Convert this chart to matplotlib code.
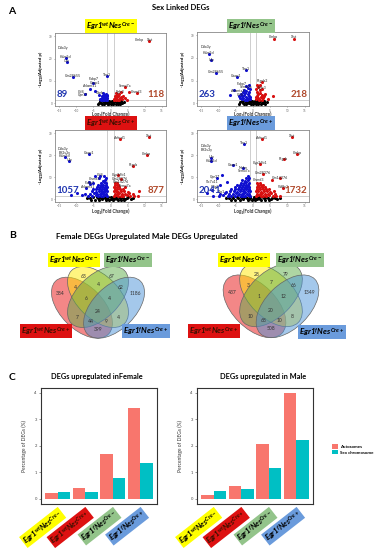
import matplotlib
matplotlib.use("Agg")
import matplotlib.pyplot as plt
from matplotlib.patches import Ellipse, Patch

plt.rcParams['font.family'] = ['Lato', 'DejaVu Sans']
plt.rcParams['mathtext.fontset'] = 'custom'
plt.rcParams['mathtext.it'] = 'Lato:italic:bold'
plt.rcParams['mathtext.rm'] = 'Lato:italic:bold'
plt.rcParams['mathtext.bf'] = 'Lato:italic:bold'

# ---------------- data ----------------
# genotype labels
lab_wt_m = r"$Egr1^{wt}Nes^{Cre-}$"
lab_wt_p = r"$Egr1^{wt}Nes^{Cre+}$"
lab_f_m = r"$Egr1^{f}Nes^{Cre-}$"
lab_f_p = r"$Egr1^{f}Nes^{Cre+}$"

# volcano counts (down, up)
tl_counts = (89, 118)
tr_counts = (263, 218)
bl_counts = (1057, 877)
br_counts = (2041, 1732)

# volcano points (log2 fold change, -log10 adj p)
tl_black = [(-3.5, 0.2), (-3, 0.8), (-2.5, -0.3), (-2, 0.5), (-1.5, 1.0), (-1, 0.1), (-0.5, 0.7),
            (0, -0.4), (0.5, 0.9), (1, 0.3), (1.5, -0.2), (2, 0.7), (2.5, 0.2), (3, 1.0), (3.5, -0.1),
            (-2.8, 0.0), (-1.8, -0.5), (-0.8, -0.2), (0.3, 0.3), (1.2, 1.1), (2.2, -0.4), (3.2, 0.4),
            (-0.3, 1.1), (0.8, -0.5), (-1.2, 0.6), (1.8, 0.5), (-2.2, 1.1), (2.8, -0.2), (0, 0.6),
            (-3.8, -0.3), (3.9, 0.6), (-0.6, -0.6), (0.6, 0.2), (-1.6, 0.2), (1.6, 0.8)]
tl_blue = [(-0.9, 1.5), (-1.2, 2.1), (-1.5, 1.8), (-1.8, 2.6), (-2.1, 1.6), (-2.4, 2.2), (-1.1, 3.0),
           (-1.6, 3.4), (-2.0, 3.8), (-2.6, 3.0), (-3.0, 2.0), (-1.3, 4.2), (-2.3, 4.6), (-3.4, 3.6),
           (-1.0, 2.5), (-1.9, 1.4), (-2.8, 1.5), (-1.4, 1.4), (-0.9, 3.6), (-4.5, 5.5), (-6.0, 6.5),
           (-5.2, 9.0), (-7.5, 4.2), (-1.1, 12.0), (-10.9, 11.8), (-13.1, 20.3), (-12.9, 18.5)]
tl_red = [(1.0, 1.6), (1.3, 2.3), (1.7, 1.8), (2.0, 2.8), (2.4, 1.5), (2.7, 2.2), (1.2, 3.2),
          (1.8, 3.8), (2.3, 3.3), (3.0, 2.6), (3.4, 1.7), (1.5, 4.5), (2.6, 4.2), (3.6, 3.3),
          (1.1, 2.0), (2.1, 1.4), (4.2, 2.2), (4.8, 1.6), (1.6, 1.4), (3.0, 4.8), (5.5, 5.0),
          (7.7, 4.6), (4.3, 7.3), (11.3, 27.8)]
tl_genes = [("Cmkp", 8.4, 28.4), ("Xist", 11.6, 28.4), ("Ddx3y", -14.0, 24.7), ("Kdm5d", -13.1, 20.9),
            ("Uty", -12.9, 19.1), ("Gm28655", -10.9, 12.4), ("Thy1", -1.1, 12.7), ("Fabp7", -5.1, 10.9),
            ("Gnao1", -4.6, 9.0), ("Adamts1", -6.0, 7.5), ("Sema7a", 4.3, 7.9), ("Cd4", -8.5, 5.2),
            ("Gpr17", -8.0, 3.5), ("Fgfr3", 2.8, 4.8), ("Cnmd3", 7.7, 5.2), ("Ghrh", -3.1, 4.5)]

tr_black = [(-3.8, 0.3), (-3.2, 0.9), (-2.6, -0.2), (-2.1, 0.6), (-1.6, 1.1), (-1.1, 0.0), (-0.6, 0.8),
            (0, -0.3), (0.5, 1.0), (1.0, 0.2), (1.5, -0.3), (2.1, 0.8), (2.6, 0.1), (3.1, 1.1), (3.6, -0.2),
            (-2.9, 0.1), (-1.9, -0.5), (-0.8, -0.1), (0.3, 0.4), (1.2, 1.0), (2.3, -0.4), (3.3, 0.5),
            (-0.3, 1.1), (0.8, -0.5), (-1.3, 0.5), (1.8, 0.4), (-2.3, 1.0), (2.9, -0.1), (0, 0.6),
            (-4.2, -0.2), (4.1, 0.5), (-0.5, -0.6), (0.6, 0.3), (-1.7, 0.2), (1.6, 0.7)]
tr_blue = [(-0.9, 1.6), (-1.3, 2.2), (-1.7, 1.7), (-2.0, 2.8), (-2.4, 1.5), (-2.8, 2.3), (-3.3, 1.8),
           (-1.1, 3.3), (-1.6, 3.9), (-2.2, 4.4), (-2.7, 3.5), (-3.2, 3.0), (-3.7, 2.4), (-1.2, 4.9),
           (-1.9, 5.5), (-2.5, 5.9), (-3.0, 4.8), (-1.0, 6.2), (-1.5, 6.9), (-2.1, 7.4), (-1.2, 8.0),
           (-3.6, 4.0), (-4.2, 3.1), (-0.9, 2.5), (-1.8, 1.4), (-4.8, 11.5), (-1.9, 14.8), (-10.7, 13.2),
           (-12.1, 18.9), (-12.9, 21.8), (-5.5, 6.0), (-6.8, 3.4)]
tr_red = [(1.0, 1.6), (1.4, 2.3), (1.8, 1.7), (2.2, 2.8), (2.6, 1.5), (3.0, 2.2), (1.1, 3.3),
          (1.6, 3.9), (2.1, 4.5), (2.7, 3.6), (3.2, 3.1), (1.3, 5.0), (1.9, 5.6), (2.5, 6.1),
          (1.0, 6.4), (1.5, 7.1), (2.1, 7.8), (1.2, 8.2), (3.5, 4.2), (0.9, 2.6), (1.8, 1.4),
          (2.6, 9.5), (4.5, 2.0), (5.8, 3.0), (11.9, 28.5), (6.0, 28.5)]
tr_genes = [("Cmkp", 6.0, 29.1), ("Xist", 11.9, 29.1), ("Ddx3y", -13.8, 25.0), ("Kdm5d", -12.9, 22.3),
            ("Uty", -12.1, 19.3), ("Gm28655", -10.7, 13.6), ("Thy1", -1.9, 15.2), ("Gnao1", -4.8, 11.8),
            ("Ptgds2", 2.6, 9.9), ("Fabp7", -3.2, 8.6), ("Sema7a", -2.1, 7.2), ("Adamts1", -4.4, 5.4),
            ("Fgfr3", 2.6, 6.8), ("Cd4", -3.8, 3.6)]

bl_black = [(-6.0, 0.3), (-5.2, 0.9), (-4.5, -0.2), (-3.8, 0.6), (-3.1, 1.1), (-2.5, 0.0), (-1.9, 0.8),
            (-1.3, -0.3), (-0.7, 1.0), (0, 0.2), (0.6, -0.4), (1.2, 0.8), (1.8, 0.1), (2.4, 1.1),
            (3.0, -0.2), (3.7, 0.7), (4.4, 0.2), (5.2, 0.9), (6.0, -0.1), (-5.6, -0.4), (-4.1, 1.0),
            (-2.8, 0.5), (-1.6, 0.3), (-0.4, -0.5), (0.4, 0.7), (1.5, 1.1), (2.7, 0.4), (3.9, -0.4),
            (4.8, 0.5), (-3.4, -0.5), (-0.9, 0.5), (0.9, 0.4), (2.1, -0.5), (-2.2, 1.1), (3.3, 1.0),
            (-6.8, 0.6), (6.7, 0.4), (0.2, 1.1), (-1.0, -0.1), (1.0, -0.1)]
bl_blue = [(-1.0, 1.5), (-1.6, 1.7), (-2.2, 1.4), (-2.9, 1.6), (-3.6, 1.5), (-4.4, 1.7), (-5.3, 1.4), (-6.5, 1.6),
           (-1.2, 2.5), (-1.8, 2.4), (-2.5, 2.6), (-3.2, 2.5), (-4.0, 2.4), (-4.9, 2.6), (-6.0, 2.5), (-7.4, 2.4),
           (-1.0, 3.5), (-1.5, 3.6), (-2.1, 3.4), (-2.8, 3.5), (-3.5, 3.6), (-4.4, 3.4), (-5.5, 3.5),
           (-1.3, 4.5), (-1.9, 4.4), (-2.6, 4.6), (-3.4, 4.5), (-4.2, 4.4), (-5.2, 4.6),
           (-1.1, 5.5), (-1.7, 5.6), (-2.4, 5.4), (-3.1, 5.5), (-4.0, 5.6),
           (-1.4, 6.5), (-2.1, 6.4), (-2.9, 6.6), (-3.8, 6.5),
           (-1.2, 7.5), (-1.9, 7.6), (-2.7, 7.4), (-1.5, 8.5), (-2.3, 8.4), (-1.3, 9.5), (-1.9, 10.6),
           (-8.5, 2.0), (-9.8, 3.0), (-11.5, 1.8), (-7.2, 5.0), (-6.2, 8.0), (-5.0, 7.2), (-3.5, 9.8),
           (-12.1, 17.4), (-13.4, 19.3), (-6.2, 20.4), (-4.5, 10.5), (-3.1, 10.4), (-6.0, 6.8)]
bl_red = [(1.0, 1.5), (1.6, 1.7), (2.3, 1.4), (3.0, 1.6), (3.8, 1.5), (4.7, 1.7), (5.8, 1.4), (7.0, 1.6), (8.2, 1.5),
          (1.2, 2.5), (1.9, 2.4), (2.6, 2.6), (3.4, 2.5), (4.3, 2.4), (5.3, 2.6), (6.5, 2.5),
          (1.0, 3.5), (1.6, 3.6), (2.3, 3.4), (3.1, 3.5), (4.0, 3.6), (5.0, 3.4),
          (1.3, 4.5), (2.0, 4.4), (2.8, 4.6), (3.7, 4.5), (1.1, 5.5), (1.8, 5.6), (2.6, 5.4),
          (1.4, 6.5), (2.2, 6.4), (1.2, 7.5), (2.0, 7.4), (3.0, 9.0), (2.2, 10.8), (6.7, 15.0),
          (10.6, 20.1), (11.4, 28.3), (2.8, 27.5), (8.5, 3.5), (4.3, 5.5)]
bl_genes = [("Ankrd1", 2.8, 27.9), ("Xist", 11.4, 28.7), ("Ddx3y", -13.9, 22.9), ("Eif2s3y", -13.5, 21.2),
            ("Kdm5d", -13.4, 19.7), ("Uty", -12.1, 17.8), ("Gnao1", -6.2, 20.8), ("Cmkp", 10.6, 20.5),
            ("Ptgds", 6.7, 15.4), ("Cyp26b1", 2.6, 11.2), ("Gm28376", 2.8, 9.4), ("Gm14276", 3.1, 7.6),
            ("Sema7a", 4.3, 5.8), ("Cnmd3", -4.6, 9.0), ("Fabp7", -6.0, 7.2), ("Adamts1", -6.6, 5.4),
            ("Cd4", -3.1, 10.8)]

br_black = [(-7.0, 0.3), (-6.1, 0.9), (-5.2, -0.2), (-4.4, 0.6), (-3.6, 1.1), (-2.9, 0.0), (-2.2, 0.8),
            (-1.5, -0.3), (-0.8, 1.0), (0, 0.2), (0.7, -0.4), (1.4, 0.8), (2.1, 0.1), (2.8, 1.1),
            (3.5, -0.2), (4.3, 0.7), (5.1, 0.2), (6.0, 0.9), (6.9, -0.1), (-6.5, -0.4), (-4.8, 1.0),
            (-3.2, 0.5), (-1.8, 0.3), (-0.4, -0.5), (0.4, 0.7), (1.7, 1.1), (3.1, 0.4), (4.6, -0.4),
            (5.6, 0.5), (-3.9, -0.5), (-1.0, 0.5), (1.0, 0.4), (2.4, -0.5), (-2.5, 1.1), (3.8, 1.0),
            (-7.9, 0.6), (7.8, 0.4), (0.2, 1.1), (-1.2, -0.1), (1.2, -0.1), (-5.7, 0.4), (6.4, 0.6)]
br_blue = [(-1.0, 1.5), (-1.6, 1.7), (-2.2, 1.4), (-2.9, 1.6), (-3.6, 1.5), (-4.4, 1.7), (-5.3, 1.4), (-6.3, 1.6),
           (-7.4, 1.5), (-8.6, 1.7), (-10.0, 1.4), (-11.5, 1.6),
           (-1.2, 2.5), (-1.8, 2.4), (-2.5, 2.6), (-3.2, 2.5), (-4.0, 2.4), (-4.9, 2.6), (-5.9, 2.5), (-7.0, 2.4),
           (-8.2, 2.6), (-9.6, 2.5),
           (-1.0, 3.5), (-1.6, 3.6), (-2.2, 3.4), (-2.9, 3.5), (-3.7, 3.6), (-4.6, 3.4), (-5.6, 3.5), (-6.7, 3.6),
           (-8.0, 3.4),
           (-1.3, 4.5), (-1.9, 4.4), (-2.6, 4.6), (-3.4, 4.5), (-4.3, 4.4), (-5.3, 4.6), (-6.4, 4.5),
           (-1.1, 5.5), (-1.7, 5.6), (-2.4, 5.4), (-3.2, 5.5), (-4.1, 5.6), (-5.1, 5.4),
           (-1.4, 6.5), (-2.1, 6.4), (-2.9, 6.6), (-3.8, 6.5), (-4.8, 6.4),
           (-1.2, 7.5), (-1.9, 7.6), (-2.7, 7.4), (-3.6, 7.5), (-1.5, 8.5), (-2.3, 8.4), (-3.1, 8.6),
           (-1.3, 9.5), (-2.0, 9.6), (-1.6, 10.5), (-9.5, 6.5), (-11.8, 4.0), (-7.5, 8.0), (-5.8, 15.5),
           (-2.6, 25.0), (-12.1, 18.8), (-12.1, 17.3), (-10.5, 9.5), (-9.0, 11.0), (-2.9, 14.0), (-13.5, 3.0)]
br_red = [(1.0, 1.5), (1.6, 1.7), (2.3, 1.4), (3.0, 1.6), (3.8, 1.5), (4.7, 1.7), (5.7, 1.4), (6.8, 1.6), (8.0, 1.5),
          (1.2, 2.5), (1.9, 2.4), (2.6, 2.6), (3.4, 2.5), (4.3, 2.4), (5.3, 2.6), (6.4, 2.5),
          (1.0, 3.5), (1.6, 3.6), (2.3, 3.4), (3.1, 3.5), (4.0, 3.6), (5.0, 3.4), (6.1, 3.5),
          (1.3, 4.5), (2.0, 4.4), (2.8, 4.6), (3.7, 4.5), (4.7, 4.4),
          (1.1, 5.5), (1.8, 5.6), (2.6, 5.4), (3.5, 5.5), (1.4, 6.5), (2.2, 6.4), (3.0, 6.6),
          (1.2, 7.5), (2.0, 7.4), (2.0, 16.2), (3.0, 11.4), (7.9, 9.5), (8.9, 18.2), (12.9, 20.6),
          (11.4, 28.5), (2.6, 27.5), (5.5, 8.5), (8.8, 5.2)]
br_genes = [("Ankrd1", 2.6, 27.9), ("Xist", 11.4, 28.7), ("Thy1", -2.6, 25.4), ("Ddx3y", -13.8, 24.2),
            ("Eif2s3y", -13.4, 22.4), ("Uty", -12.1, 19.0), ("Kdm5d", -12.1, 17.5), ("Cmkp", 12.9, 20.9),
            ("Ptgds", 8.9, 18.4), ("Gnao1", -5.8, 15.7), ("Cyp26b1", 2.1, 16.5), ("Nefm", -2.9, 14.2),
            ("Gm28376", 3.0, 11.7), ("Gm14276", 7.9, 9.7), ("Cnmd3", 1.6, 8.5), ("Sema7a", -2.6, 12.6),
            ("Gpr37", -11.2, 9.9), ("Slc7a11", -11.8, 7.6), ("Olig2", -10.9, 5.4), ("Wdfy1", 8.8, 5.4),
            ("Plp1", -9.1, 3.1)]

# venn counts (same region order for both diagrams)
female_venn = [384, 63, 67, 1186, 4, 4, 62, 6, 4, 24, 7, 4, 44, 9, 399]
male_venn = [437, 28, 79, 1349, 3, 7, 66, 1, 12, 20, 10, 8, 68, 10, 508]

# percentage of DEGs
bar_groups = [lab_wt_m, lab_wt_p, lab_f_m, lab_f_p]
female_auto = [0.20, 0.42, 1.68, 3.42]
female_sex = [0.27, 0.25, 0.80, 1.33]
male_auto = [0.15, 0.48, 2.05, 3.98]
male_sex = [0.28, 0.37, 1.17, 2.20]

# ---------------- layout ----------------
W, H = 380, 550
fig = plt.figure(figsize=(3.8, 5.5), dpi=100)

def px_axes(x0, y0, x1, y1, **kw):
    return fig.add_axes([x0 / W, 1 - y1 / H, (x1 - x0) / W, (y1 - y0) / H], **kw)

YEL, RED, GRN, BLU = '#FFFF00', '#DD1111', '#93C48A', '#6A9BDC'
tag_style = {lab_wt_m: (YEL, 'black'), lab_wt_p: (RED, '#3A1000'),
             lab_f_m: (GRN, 'black'), lab_f_p: (BLU, 'black')}

ov = px_axes(0, 0, W, H, zorder=20)
ov.set_xlim(0, W)
ov.set_ylim(H, 0)
ov.axis('off')

def tag(x, y, s, size=5.8):
    fc, tc = tag_style[s]
    ov.text(x, y, s, ha='center', va='center', fontsize=size, color=tc,
            bbox=dict(boxstyle='square,pad=0.12', fc=fc, ec='none'))

# panel letters and titles
ov.text(8, 12, "A", fontsize=7.5, fontweight='bold', ha='left', va='center')
ov.text(9, 235, "B", fontsize=7.5, fontweight='bold', ha='left', va='center')
ov.text(9, 378, "C", fontsize=7.5, fontweight='bold', ha='left', va='center')
ov.text(181, 8, "Sex Linked DEGs", fontsize=5.5, fontweight='bold', ha='center', va='center')
ov.text(147, 237, "Female DEGs Upregulated Male DEGs Upregulated", fontsize=5.8,
        fontweight='bold', ha='center', va='center')
ov.text(97, 377, "DEGs upregulated inFemale", fontsize=5.3, fontweight='bold', ha='center', va='center')
ov.text(263, 377, "DEGs upregulated in Male", fontsize=5.3, fontweight='bold', ha='center', va='center')

# ---------------- A: volcano plots ----------------
def volcano(box, black, blue, red, genes, counts, xlab_y):
    ax = px_axes(*box)
    for pts, c in ((black, 'black'), (blue, '#1010D0'), (red, '#D81010')):
        ax.scatter([p[0] for p in pts], [p[1] for p in pts], s=5, c=c, linewidths=0, zorder=3)
    ax.axvline(-1, color='#BBBBBB', lw=0.5, zorder=1)
    ax.axvline(1, color='#BBBBBB', lw=0.5, zorder=1)
    ax.axhline(1.3, color='#BBBBBB', lw=0.5, zorder=1)
    for g, x, y in genes:
        ax.text(x, y, g, fontsize=2.6, ha='center', va='center', color='#222222', zorder=4)
    ax.text(-15.8, 2.0, str(counts[0]), fontsize=7, fontweight='bold', color='#1F35B0',
            ha='left', va='bottom', zorder=5)
    ax.text(15.8, 2.0, str(counts[1]), fontsize=7, fontweight='bold', color='#B0482A',
            ha='right', va='bottom', zorder=5)
    ax.set_xlim(-16.3, 16.3)
    ax.set_ylim(-1.3, 31.5)
    ax.set_xticks([-15, -10, -5, 0, 5, 10, 15])
    ax.set_yticks([0, 10, 20, 30])
    ax.tick_params(labelsize=2.2, length=1, width=0.4, pad=0.8, colors='#666666')
    for sp in ax.spines.values():
        sp.set_color('#888888')
        sp.set_linewidth(0.6)
    ax.set_ylabel("-Log\u2081\u2080(Adjusted p)", fontsize=3.2, fontweight='bold', labelpad=4)
    cx = (box[0] + box[2]) / 2
    ov.text(cx, xlab_y, "Log\u2082(Fold Change)", fontsize=3.4, fontweight='bold',
            ha='center', va='center', color='#333333')
    return ax

volcano((55, 33, 166, 106), tl_black, tl_blue, tl_red, tl_genes, tl_counts, 114)
volcano((197, 32, 309, 106), tr_black, tr_blue, tr_red, tr_genes, tr_counts, 114)
volcano((55, 130, 166, 202), bl_black, bl_blue, bl_red, bl_genes, bl_counts, 211)
volcano((197, 130, 309, 202), br_black, br_blue, br_red, br_genes, br_counts, 211)

tag(111, 26, lab_wt_m)
tag(251, 26, lab_f_m)
tag(111, 123, lab_wt_p)
tag(251, 123, lab_f_p)

# ---------------- B: venn diagrams ----------------
venn_pos = [(0.15, 0.60), (0.37, 0.76), (0.63, 0.76), (0.85, 0.60), (0.29, 0.66), (0.50, 0.69),
            (0.71, 0.66), (0.39, 0.56), (0.61, 0.56), (0.50, 0.43), (0.31, 0.38), (0.69, 0.38),
            (0.435, 0.345), (0.575, 0.345), (0.50, 0.27)]
venn_sets = [((0.35, 0.47), -45, '#E81010'), ((0.50, 0.57), -45, '#FFEA00'),
             ((0.50, 0.57), 45, '#5FAE48'), ((0.65, 0.47), 45, '#4A93D8')]

def venn(cx, scale, counts):
    ax = px_axes(cx - scale / 2, 358 - scale, cx + scale / 2, 358)
    ax.set_xlim(0, 1)
    ax.set_ylim(0, 1)
    ax.axis('off')
    for (c, ang, col) in venn_sets:
        ax.add_patch(Ellipse(c, 0.70, 0.40, angle=ang, fc=col, alpha=0.5, ec='none'))
        ax.add_patch(Ellipse(c, 0.70, 0.40, angle=ang, fc='none', ec='#666666', lw=0.5))
    for (u, v), n in zip(venn_pos, counts):
        ax.text(u, v, str(n), fontsize=3.6, ha='center', va='center', color='#333333')

venn(98, 107, female_venn)
venn(271, 110, male_venn)

tag(74, 260, lab_wt_m)
tag(128, 260, lab_f_m)
tag(46, 331, lab_wt_p)
tag(146, 331, lab_f_p)
tag(244, 260, lab_wt_m)
tag(300, 260, lab_f_m)
tag(214, 331, lab_wt_p)
tag(322, 332, lab_f_p)

# ---------------- C: bar charts ----------------
AUTO, SEXC = '#F8766D', '#00BFC4'

def bars(box, auto, sexc):
    ax = px_axes(*box)
    xs = range(len(auto))
    ax.bar([x - 0.225 for x in xs], auto, width=0.45, color=AUTO)
    ax.bar([x + 0.225 for x in xs], sexc, width=0.45, color=SEXC)
    ax.set_xlim(-0.6, 3.6)
    ax.set_ylim(-0.2, 4.18)
    ax.set_yticks([0, 1, 2, 3, 4])
    ax.tick_params(axis='y', labelsize=3, length=1.5, width=0.4, pad=1.5, colors='#444444')
    ax.tick_params(axis='x', length=0, pad=3)
    ax.set_xticks(list(xs))
    ax.set_xticklabels(bar_groups, rotation=38, ha='right', va='top', rotation_mode='anchor', fontsize=5.5)
    for lbl, g in zip(ax.get_xticklabels(), bar_groups):
        fc, tc = tag_style[g]
        lbl.set_color(tc)
        lbl.set_bbox(dict(boxstyle='square,pad=0.12', fc=fc, ec='none'))
    for sp in ax.spines.values():
        sp.set_color('#333333')
        sp.set_linewidth(0.8)
    ax.set_ylabel("Percentage of DEGs (%)", fontsize=3.5, color='#333333', labelpad=5)
    return ax

bars((41, 388, 157, 504), female_auto, female_sex)
bars((197, 388, 313, 504), male_auto, male_sex)

ov.legend(handles=[Patch(fc=AUTO, label='Autosomes'), Patch(fc=SEXC, label='Sex chromosome')],
          loc='upper left', bbox_to_anchor=(330 / W, 1 - 442 / H), bbox_transform=fig.transFigure,
          frameon=False, prop={'size': 3.2, 'weight': 'bold'}, handlelength=1.2, handleheight=1.2,
          labelspacing=0.2, handletextpad=0.5, borderpad=0)

fig.savefig("out.png", dpi=100)
